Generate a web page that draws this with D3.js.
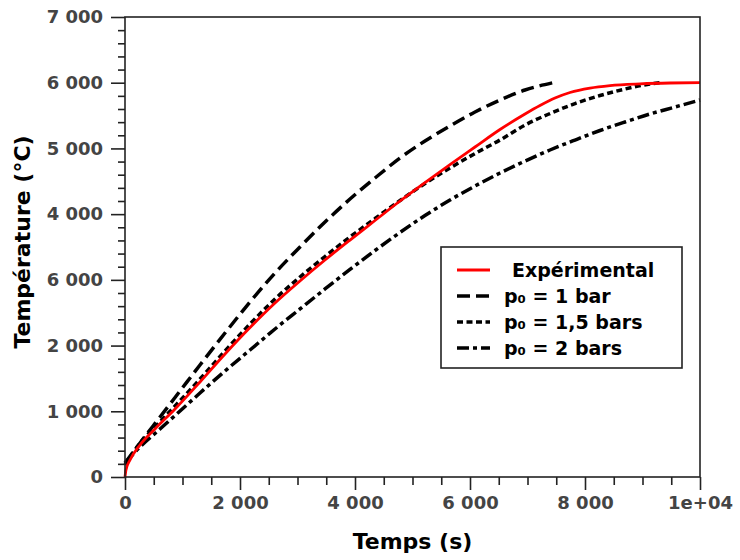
<!DOCTYPE html>
<html>
<head>
<meta charset="utf-8">
<script src="https://cdn.jsdelivr.net/npm/d3@7"></script>
<style>
  html, body { margin: 0; padding: 0; background: #fff; }
  svg { display: block; }
  text { font-family: "DejaVu Sans", sans-serif; font-weight: bold; }
</style>
</head>
<body>
<svg id="chart" width="740" height="560"></svg>
<script>
// ---- data (time in s, temperature in °C) ----
const expT = [0, 17, 87, 261, 522, 870, 1304, 1739, 2174, 2609, 3043, 3478, 3913, 4348, 4783, 5217, 5652, 6087, 6522, 6957, 7217, 7478, 7739, 8087, 8435, 8957, 9478, 10000];
const expV = [0, 107, 259, 487, 731, 1035, 1446, 1872, 2275, 2648, 2983, 3302, 3606, 3903, 4200, 4481, 4755, 5022, 5288, 5524, 5653, 5767, 5851, 5919, 5957, 5983, 5996, 6000];

const p1T = [0, 261, 609, 957, 1304, 1739, 2174, 2609, 3043, 3478, 3913, 4348, 4783, 5217, 5652, 6087, 6522, 6957, 7443];
const p1V = [213, 518, 913, 1309, 1704, 2191, 2663, 3104, 3500, 3880, 4230, 4550, 4854, 5113, 5341, 5554, 5737, 5889, 6000];

const p15T = [0, 261, 522, 870, 1304, 1739, 2174, 2609, 3043, 3478, 3913, 4348, 4783, 5217, 5652, 6087, 6522, 6957, 7391, 7826, 8261, 8696, 9130, 9304];
const p15V = [183, 517, 761, 1080, 1491, 1918, 2328, 2709, 3044, 3355, 3652, 3933, 4207, 4466, 4702, 4922, 5128, 5356, 5531, 5683, 5805, 5904, 5980, 6000];

const p2T = [0, 261, 609, 957, 1304, 1739, 2174, 2609, 3043, 3478, 3913, 4348, 4783, 5217, 5652, 6087, 6522, 6957, 7391, 7826, 8261, 8696, 9130, 9565, 10000];
const p2V = [213, 457, 730, 1004, 1278, 1613, 1933, 2252, 2557, 2861, 3158, 3447, 3721, 3979, 4215, 4428, 4626, 4808, 4976, 5128, 5273, 5402, 5524, 5630, 5737];

const xTickValues = [0, 2000, 4000, 6000, 8000, 10000];
const xTickLabels = ["0", "2 000", "4 000", "6 000", "8 000", "1e+04"];
const yTickValues = [0, 1000, 2000, 3000, 4000, 5000, 6000, 7000];
const yTickLabels = ["0", "1 000", "2 000", "6 000", "4 000", "5 000", "6 000", "7 000"];

const seriesNames = ["Expérimental", "p₀ = 1 bar", "p₀ = 1,5 bars", "p₀ = 2 bars"];
const xTitle = "Temps (s)";
const yTitle = "Température (°C)";

// ---- layout ----
const svg = d3.select("#chart");
const L = 125, R = 700, T = 17, B = 477;
const x = d3.scaleLinear().domain([0, 10000]).range([L, R]);
const y = d3.scaleLinear().domain([0, 7000]).range([B, T]);

const series = [
  { name: seriesNames[0], t: expT, v: expV, color: "#ff0000", width: 2.8, dash: null },
  { name: seriesNames[1], t: p1T, v: p1V, color: "#000", width: 3.5, dash: "13,6" },
  { name: seriesNames[2], t: p15T, v: p15V, color: "#000", width: 3.5, dash: "6,3.5" },
  { name: seriesNames[3], t: p2T, v: p2V, color: "#000", width: 3.5, dash: "12,4,4,4" }
];

// curves (black ones under red)
const line = d3.line().x(d => x(d[0])).y(d => y(d[1])).curve(d3.curveMonotoneX);
const gLines = svg.append("g");
[1, 2, 3, 0].forEach(i => {
  const s = series[i];
  gLines.append("path")
    .attr("d", line(s.t.map((t, k) => [t, s.v[k]])))
    .attr("fill", "none")
    .attr("stroke", s.color)
    .attr("stroke-width", s.width)
    .attr("stroke-dasharray", s.dash)
    .attr("stroke-linecap", "butt");
});

// frame
svg.append("rect")
  .attr("x", L).attr("y", T).attr("width", R - L).attr("height", B - T)
  .attr("fill", "none").attr("stroke", "#222").attr("stroke-width", 1.6);

// axes
const tickColor = "#222";
const labelColor = "#444";

const xMajor = svg.append("g").attr("transform", `translate(0,${B})`)
  .call(d3.axisBottom(x).tickValues(xTickValues).tickFormat((d, i) => xTickLabels[i]).tickSize(13).tickPadding(6));
const xMinor = svg.append("g").attr("transform", `translate(0,${B})`)
  .call(d3.axisBottom(x).tickValues(d3.range(0, 10001, 500).filter(v => v % 2000 !== 0)).tickFormat("").tickSize(8));
const yMajor = svg.append("g").attr("transform", `translate(${L},0)`)
  .call(d3.axisLeft(y).tickValues(yTickValues).tickFormat((d, i) => yTickLabels[i]).tickSize(14).tickPadding(8));
const yMinor = svg.append("g").attr("transform", `translate(${L},0)`)
  .call(d3.axisLeft(y).tickValues(d3.range(0, 7001, 200).filter(v => v % 1000 !== 0)).tickFormat("").tickSize(7));

[xMajor, xMinor, yMajor, yMinor].forEach(g => {
  g.select(".domain").remove();
  g.selectAll(".tick line").attr("stroke", tickColor).attr("stroke-width", 1.6);
  g.selectAll(".tick text").attr("fill", labelColor).style("font-size", "18px")
    .style("font-family", "DejaVu Sans, sans-serif").style("font-weight", "bold");
});

// axis titles
svg.append("text").attr("x", (L + R) / 2).attr("y", 549)
  .attr("text-anchor", "middle").style("font-size", "22px").attr("fill", "#000").text(xTitle);
svg.append("text").attr("transform", "translate(30,242) rotate(-90)")
  .attr("text-anchor", "middle").style("font-size", "22px").attr("fill", "#000").text(yTitle);

// legend
const lg = svg.append("g");
lg.append("rect").attr("x", 441).attr("y", 247).attr("width", 241).attr("height", 121)
  .attr("fill", "#fff").attr("stroke", "#222").attr("stroke-width", 1.6);
const rowY = [270, 296, 322, 348];
const textX = [512, 504, 504, 504];
series.forEach((s, i) => {
  lg.append("line").attr("x1", 457).attr("x2", 490).attr("y1", rowY[i]).attr("y2", rowY[i])
    .attr("stroke", s.color).attr("stroke-width", s.width).attr("stroke-dasharray", s.dash);
  lg.append("text").attr("x", textX[i]).attr("y", rowY[i]).attr("dy", "0.35em")
    .style("font-size", "19px").attr("fill", "#000").text(s.name);
});
</script>
</body>
</html>
